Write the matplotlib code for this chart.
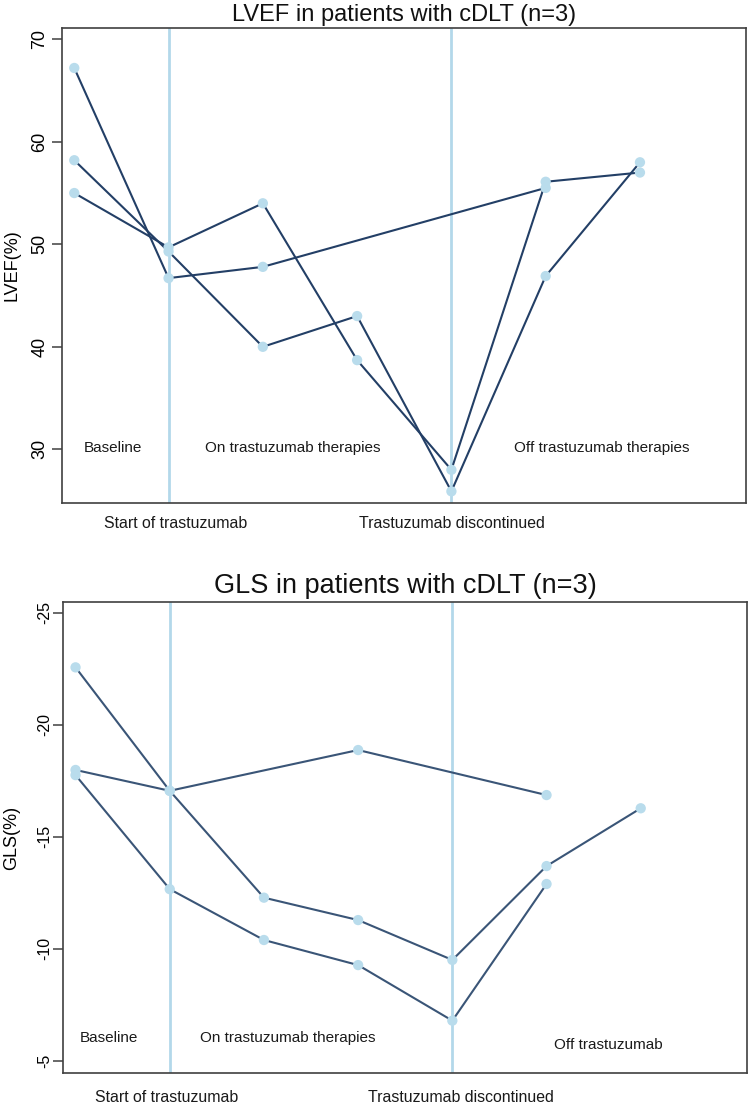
import matplotlib
matplotlib.use("Agg")
import matplotlib.pyplot as plt
import matplotlib.transforms as mtransforms

plt.rcParams['font.family'] = ['Liberation Sans', 'DejaVu Sans']

# ---------------- data ----------------
# time points: 0 baseline, 1 start of trastuzumab, 2-3 on therapy, 4 discontinued, 5-6 off therapy
lvef_p1_x = [0, 1, 2, 5]
lvef_p1_y = [67.2, 46.7, 47.8, 55.5]
lvef_p2_x = [0, 1, 2, 3, 4, 5, 6]
lvef_p2_y = [55.0, 49.7, 54.0, 38.7, 28.0, 56.1, 57.0]
lvef_p3_x = [0, 1, 2, 3, 4, 5, 6]
lvef_p3_y = [58.2, 49.3, 40.0, 43.0, 25.9, 46.9, 58.0]

gls_p1_x = [0, 1, 2, 3, 4, 5, 6]
gls_p1_y = [-22.56, -17.05, -12.28, -11.28, -9.5, -13.69, -16.27]
gls_p2_x = [0, 1, 3, 5]
gls_p2_y = [-17.98, -17.05, -18.87, -16.86]
gls_p3_x = [0, 1, 2, 3, 4, 5]
gls_p3_y = [-17.75, -12.66, -10.39, -9.27, -6.79, -12.89]

event_x = [1, 4]
event_labels = ["Start of trastuzumab", "Trastuzumab discontinued"]

lvef_yticks = [30, 40, 50, 60, 70]
gls_yticks = [-25, -20, -15, -10, -5]

lvef_phase_labels = ["Baseline", "On trastuzumab therapies", "Off trastuzumab therapies"]
gls_phase_labels = ["Baseline", "On trastuzumab therapies", "Off trastuzumab"]

# ---------------- styling ----------------
VLINE = '#b3d8ea'
MARK = '#b9dcec'
SPINE = '#404040'

fig = plt.figure(figsize=(7.5, 11.07), dpi=100)

ax1 = fig.add_axes([0.0827, 0.5456, 0.912, 0.4291])
ax2 = fig.add_axes([0.0844, 0.03044, 0.9112, 0.426])


def draw_panel(ax, series, line_color, yticks, ylim, title, title_size, title_pad,
               ylabel, tick_size, tick_pad, phase_labels, phase_x, phase_y,
               event_label_x, event_label_dy):
    for xv in event_x:
        ax.axvline(xv, color=VLINE, lw=2.0, zorder=1)
    for xs, ys in series:
        ax.plot(xs, ys, color=line_color, lw=1.5, zorder=2)
    for xs, ys in series:
        ax.scatter(xs, ys, s=55, color=MARK, edgecolors='none', zorder=3)
    ax.set_xlim(-0.13, 7.125)
    ax.set_ylim(*ylim)
    ax.set_yticks(yticks)
    ax.set_yticklabels([str(t) for t in yticks], rotation=90, va='center',
                       fontsize=tick_size)
    ax.tick_params(axis='y', length=7, width=1.1, color=SPINE, pad=tick_pad)
    ax.set_xticks([])
    for sp in ax.spines.values():
        sp.set_color(SPINE)
        sp.set_linewidth(1.2)
    ax.set_title(title, fontsize=title_size, pad=title_pad, color='#111111')
    ax.set_ylabel(ylabel, fontsize=13)
    for lbl, xx in zip(phase_labels, phase_x):
        ax.text(xx, phase_y[lbl], lbl, ha='center', va='center', fontsize=11,
                color='#1a1a1a', zorder=4)
    trans = mtransforms.blended_transform_factory(ax.transData, ax.transAxes)
    for lbl, xx in zip(event_labels, event_label_x):
        ax.annotate(lbl, xy=(xx, 0), xycoords=trans, xytext=(0, -event_label_dy),
                    textcoords='offset points', ha='center', va='center',
                    fontsize=11.4, color='#1a1a1a', annotation_clip=False)


draw_panel(ax1,
           [(lvef_p1_x, lvef_p1_y), (lvef_p2_x, lvef_p2_y), (lvef_p3_x, lvef_p3_y)],
           '#233f66', lvef_yticks, (24.76, 71.1),
           "LVEF in patients with cDLT (n=3)", 17, 5,
           "LVEF(%)", 13, 3,
           lvef_phase_labels, [0.41, 2.32, 5.59],
           {"Baseline": 30.1, "On trastuzumab therapies": 30.1,
            "Off trastuzumab therapies": 30.1},
           [1.08, 4.01], 14.5)

draw_panel(ax2,
           [(gls_p1_x, gls_p1_y), (gls_p2_x, gls_p2_y), (gls_p3_x, gls_p3_y)],
           '#3a5577', gls_yticks, (-4.44, -25.49),
           "GLS in patients with cDLT (n=3)", 19.5, 6,
           "GLS(%)", 11.5, 1,
           gls_phase_labels, [0.35, 2.25, 5.66],
           {"Baseline": -6.03, "On trastuzumab therapies": -6.03,
            "Off trastuzumab": -5.7},
           [0.97, 4.09], 17.5)

ax1.yaxis.set_label_coords(-0.061, 0.5)
ax2.yaxis.set_label_coords(-0.063, 0.5)

fig.savefig("out.png", dpi=100)
